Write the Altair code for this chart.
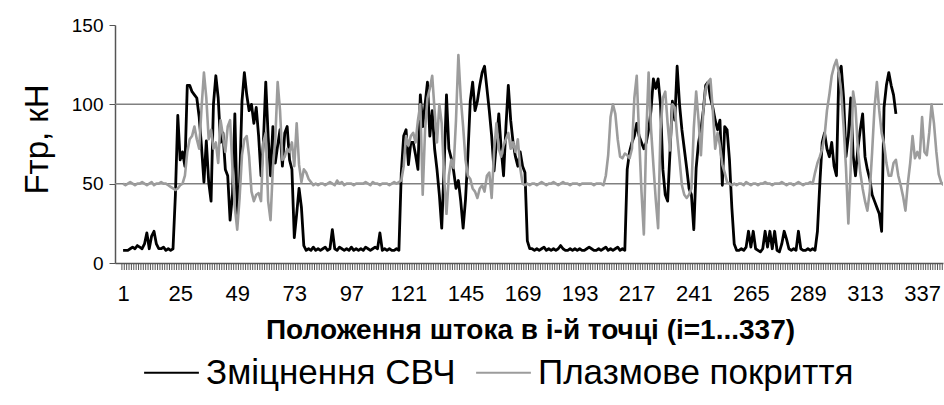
import altair as alt
import pandas as pd

# Rod position index (i = 1 ... 346 along the x axis)
positions = list(range(1, 347))

# Friction force, kN — microwave-hardened rod (series ends at i = 326)
black_force = [
    8, 8, 8, 9, 10, 9, 11, 10, 9, 12,
    19, 9, 17, 20, 12, 9, 9, 10, 8, 9,
    8, 9, 43, 93, 65, 70, 61, 112, 112, 108,
    106, 104, 92, 73, 51, 77, 51, 39, 100, 118,
    104, 76, 82, 59, 55, 27, 43, 94, 31, 50,
    102, 120, 106, 96, 100, 88, 98, 80, 55, 76,
    114, 80, 55, 86, 63, 74, 84, 61, 82, 86,
    65, 59, 16, 31, 47, 35, 11, 8, 9, 8,
    10, 8, 9, 8, 9, 10, 8, 9, 21, 9,
    8, 10, 9, 8, 9, 8, 10, 8, 9, 8,
    9, 8, 10, 9, 8, 9, 10, 9, 19, 8,
    9, 8, 9, 8, 8, 9, 8, 57, 80, 84,
    62, 76, 76, 68, 59, 106, 86, 100, 114, 80,
    96, 72, 59, 43, 22, 60, 106, 72, 66, 58,
    47, 52, 39, 22, 40, 68, 102, 114, 96, 102,
    112, 120, 124, 110, 96, 80, 58, 76, 94, 72,
    55, 86, 112, 90, 76, 67, 61, 70, 61, 57,
    14, 9, 9, 8, 9, 8, 9, 10, 8, 9,
    8, 9, 8, 9, 11, 9, 8, 8, 9, 8,
    9, 8, 9, 8, 8, 9, 10, 9, 8, 8,
    9, 8, 9, 10, 8, 9, 8, 9, 10, 8,
    9, 8, 59, 70, 76, 80, 88, 80, 76, 72,
    76, 84, 96, 116, 110, 116, 100, 59, 43, 39,
    70, 102, 90, 124, 100, 84, 72, 60, 47, 43,
    21, 60, 76, 84, 96, 112, 114, 104, 98, 90,
    84, 90, 49, 86, 84, 65, 35, 12, 8, 8,
    9, 8, 10, 20, 10, 20, 9, 8, 7, 9,
    20, 10, 20, 9, 20, 8, 7, 12, 20, 15,
    9, 8, 9, 8, 20, 9, 8, 8, 9, 8,
    9, 8, 20, 50, 76, 82, 72, 67, 76, 61,
    55, 120, 124, 104, 67, 80, 104, 68, 55, 72,
    84, 94, 67, 59, 53, 43, 39, 35, 31, 20,
    98, 112, 120, 112, 106, 94,
]

# Friction force, kN — plasma-coated rod
gray_force = [
    50, 49, 50, 51, 50, 49, 50, 50, 51, 50,
    49, 50, 51, 49, 50, 50, 51, 50, 50, 49,
    48, 47, 46, 47, 49, 50, 55, 70, 78, 80,
    86, 78, 72, 98, 120, 104, 78, 84, 72, 76,
    63, 90, 80, 70, 86, 90, 60, 35, 21, 41,
    68, 78, 80, 67, 45, 39, 43, 44, 39, 76,
    82, 39, 27, 60, 78, 114, 96, 65, 67, 72,
    70, 76, 61, 88, 62, 51, 59, 57, 53, 51,
    49, 50, 49, 50, 50, 49, 50, 51, 50, 49,
    52, 50, 51, 49, 50, 50, 50, 49, 50, 50,
    50, 50, 51, 50, 49, 51, 50, 50, 49, 50,
    50, 50, 49, 50, 51, 50, 51, 52, 61, 80,
    74, 80, 82, 76, 90, 100, 43, 84, 104, 110,
    118, 96, 76, 100, 88, 55, 31, 55, 65, 60,
    90, 131, 104, 86, 65, 55, 53, 47, 45, 41,
    47, 49, 45, 55, 57, 41, 70, 88, 72, 67,
    74, 78, 82, 72, 76, 70, 78, 60, 50, 49,
    50, 49, 50, 50, 49, 50, 51, 50, 49, 50,
    50, 51, 50, 49, 50, 51, 50, 50, 49, 50,
    50, 50, 49, 50, 50, 50, 50, 50, 49, 50,
    50, 50, 49, 55, 68, 92, 100, 94, 78, 67,
    66, 69, 68, 66, 72, 104, 118, 80, 45, 18,
    80, 120, 85, 62, 40, 22, 84, 104, 108, 88,
    71, 100, 98, 80, 65, 49, 43, 41, 43, 47,
    85, 108, 90, 68, 96, 110, 114, 116, 96, 72,
    82, 74, 62, 57, 51, 50, 49, 50, 49, 50,
    50, 49, 51, 50, 49, 50, 50, 49, 50, 50,
    51, 50, 50, 49, 50, 50, 50, 51, 50, 49,
    50, 50, 49, 50, 51, 50, 49, 50, 50, 51,
    50, 57, 63, 67, 72, 80, 96, 106, 118, 124,
    128, 120, 108, 86, 60, 25, 60, 108, 98, 72,
    57, 47, 39, 33, 45, 70, 98, 114, 96, 82,
    75, 63, 55, 55, 63, 65, 55, 49, 42, 33,
    50, 63, 80, 66, 70, 66, 92, 70, 68, 82,
    100, 88, 70, 56, 51, 49,
]

series_names = ["Зміцнення СВЧ", "Плазмове покриття"]
series_colors = ["#000000", "#9c9c9c"]
y_ticks = [0, 50, 100, 150]
grid_levels = [50, 100]
x_labels = list(range(1, 338, 24))   # 1, 25, 49, ... 337

FONT = "Liberation Sans"
PLOT_W, PLOT_H = 828, 238

black_df = pd.DataFrame({
    "i": positions[:len(black_force)],
    "F": black_force,
    "series": series_names[0],
})
gray_df = pd.DataFrame({
    "i": positions[:len(gray_force)],
    "F": gray_force,
    "series": series_names[1],
})
grid_df = pd.DataFrame({"F": grid_levels})
tick_df = pd.DataFrame({"i": [p - 0.5 for p in positions]})

x_scale = alt.Scale(domain=[-2.4, 345.8], nice=False, zero=False)
y_scale = alt.Scale(domain=[0, 150], nice=False)
color_scale = alt.Scale(domain=series_names, range=series_colors)

x_axis = alt.Axis(
    values=x_labels,
    labelOverlap=False,
    labelFlush=False,
    labelBound=False,
    labelFontSize=22,
    labelColor="#000000",
    labelPadding=20,
    ticks=False,
    domainColor="#555555",
    domainWidth=1.5,
    grid=False,
    title="Положення штока в і-й точці (і=1...337)",
    titleFontSize=28,
    titleFontWeight="bold",
    titleColor="#000000",
    titleX=415,
    titleY=67,
    titleAlign="center",
    titleBaseline="middle",
)

y_axis = alt.Axis(
    values=y_ticks,
    labelFontSize=19,
    labelColor="#000000",
    labelPadding=6,
    tickSize=6,
    tickColor="#555555",
    domainColor="#555555",
    domainWidth=1.5,
    grid=False,
    title="Fтр, кН",
    titleFontSize=33,
    titleFontWeight="normal",
    titleColor="#000000",
    titleX=-78,
    titleY=114,
    titleAlign="center",
    titleBaseline="middle",
)

# horizontal gridlines at 50 and 100 kN
grid = alt.Chart(grid_df).mark_rule(color="#808080", strokeWidth=1.5).encode(
    y=alt.Y("F:Q", scale=y_scale)
)

# dense category tick marks hanging below the x axis
cat_ticks = alt.Chart(tick_df).mark_rule(color="#555555", strokeWidth=1).encode(
    x=alt.X("i:Q", scale=x_scale),
    y=alt.value(PLOT_H),
    y2=alt.value(PLOT_H + 7),
)

legend = alt.Legend(
    title=None,
    orient="none",
    direction="horizontal",
    legendX=28,
    legendY=319,
    symbolType="stroke",
    symbolSize=3000,
    symbolStrokeWidth=2,
    labelFontSize=35,
    labelColor="#000000",
    labelLimit=0,
    labelOffset=6,
    columnPadding=16,
)

black_line = alt.Chart(black_df).mark_line(strokeWidth=2.8, strokeJoin="round", clip=True).encode(
    x=alt.X("i:Q", scale=x_scale, axis=x_axis),
    y=alt.Y("F:Q", scale=y_scale, axis=y_axis),
    color=alt.Color("series:N", scale=color_scale, legend=legend),
)

gray_line = alt.Chart(gray_df).mark_line(strokeWidth=2.6, strokeJoin="round", clip=True).encode(
    x=alt.X("i:Q", scale=x_scale),
    y=alt.Y("F:Q", scale=y_scale),
    color=alt.Color("series:N", scale=color_scale, legend=legend),
)

chart = (
    alt.layer(grid, cat_ticks, black_line, gray_line)
    .properties(
        width=PLOT_W,
        height=PLOT_H,
        autosize=alt.AutoSizeParams(type="none"),
        padding={"left": 115, "top": 25, "right": 1, "bottom": 142},
        background="#ffffff",
    )
    .configure(font=FONT)
    .configure_view(stroke=None)
)

chart.save("out.html", embed_options={"renderer": "svg", "actions": False})
